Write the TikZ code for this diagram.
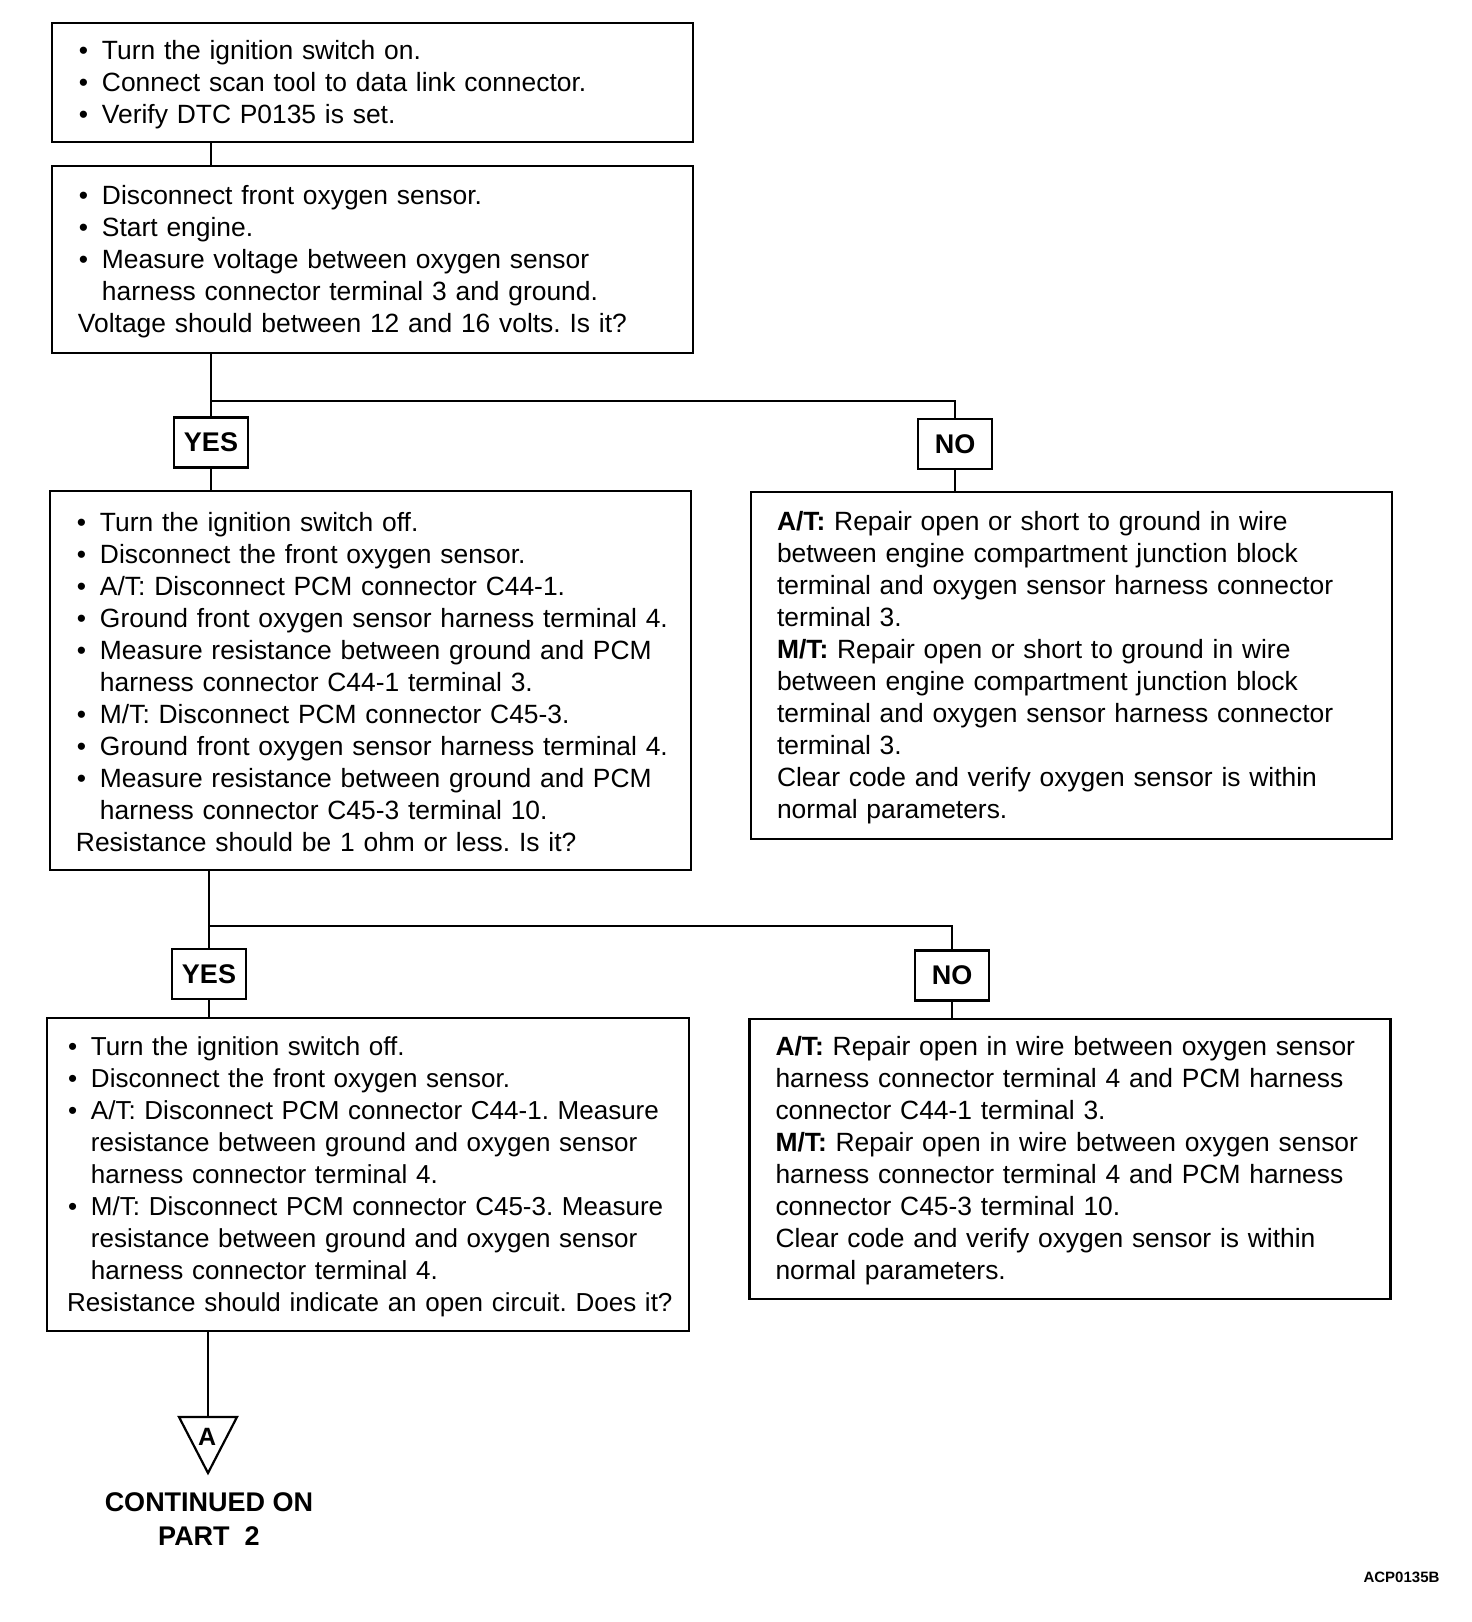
\documentclass[tikz,border=0pt]{standalone}
\usepackage{fontspec}
\setmainfont{Liberation Sans}
\frenchspacing
\hyphenpenalty=10000
\exhyphenpenalty=10000
\newlength\padleft
\setlength\padleft{5pt}
\newcommand\itm{\par\noindent\leftskip=\padleft\hangindent=12pt\hangafter=1\makebox[12pt][l]{\hspace{0.5pt}\textbullet}}
\newcommand\txt{\par\noindent\leftskip=\padleft}
\newcommand\boxfoot{\par\vspace{4.5pt}}
\begin{document}
\begin{tikzpicture}[x=1pt,y=-1pt,line width=1.1pt,
 task/.style={draw,align=left,inner xsep=8pt,inner ysep=0pt,text width=304.5pt,
  font=\fontsize{13.2}{16}\selectfont,execute at end node=\boxfoot},
 answer/.style={draw,inner sep=0pt,minimum width=37pt,minimum height=25pt,font=\fontsize{13.5}{16}\selectfont\bfseries}]
\useasboundingbox (0,0) rectangle (736,811);
% checks and repairs
\node[task,minimum height=59.5pt] (chk0) at (186.25,41.25)
 {\itm Turn the ignition switch on.
  \itm Connect scan tool to data link connector.
  \itm Verify DTC P0135 is set.\par};
\node[task,minimum height=93.5pt] (chk1) at (186.25,129.75)
 {\itm Disconnect front oxygen sensor.
  \itm Start engine.
  \itm Measure voltage between oxygen sensor\newline harness connector terminal 3 and ground.
  \txt Voltage should between 12 and 16 volts. Is it?\par};
\node[task,minimum height=189.5pt] (res1) at (185.25,340.25)
 {\itm Turn the ignition switch off.
  \itm Disconnect the front oxygen sensor.
  \itm A/T: Disconnect PCM connector C44-1.
  \itm Ground front oxygen sensor harness terminal 4.
  \itm Measure resistance between ground and PCM\newline harness connector C44-1 terminal 3.
  \itm M/T: Disconnect PCM connector C45-3.
  \itm Ground front oxygen sensor harness terminal 4.
  \itm Measure resistance between ground and PCM\newline harness connector C45-3 terminal 10.
  \txt Resistance should be 1 ohm or less. Is it?\par};
\node[task,minimum height=173.5pt] (fix1) at (535.75,332.75)
 {\txt\textbf{A/T:} Repair open or short to ground in wire\newline between engine compartment junction block\newline terminal and oxygen sensor harness connector\newline terminal 3.
  \txt\textbf{M/T:} Repair open or short to ground in wire\newline between engine compartment junction block\newline terminal and oxygen sensor harness connector\newline terminal 3.
  \txt Clear code and verify oxygen sensor is within\newline normal parameters.\par};
\node[task,inner xsep=5pt,text width=311pt,minimum height=156.5pt,
 font=\fontsize{13}{16}\selectfont] (res2) at (184,587.25)
 {\itm Turn the ignition switch off.
  \itm Disconnect the front oxygen sensor.
  \itm A/T: Disconnect PCM connector C44-1. Measure\newline resistance between ground and oxygen sensor\newline harness connector terminal 4.
  \itm M/T: Disconnect PCM connector C45-3. Measure\newline resistance between ground and oxygen sensor\newline harness connector terminal 4.
  \txt Resistance should indicate an open circuit. Does it?\par};
\node[task,minimum height=140pt] (fix2) at (535,579.5)
 {\txt\textbf{A/T:} Repair open in wire between oxygen sensor\newline harness connector terminal 4 and PCM harness\newline connector C44-1 terminal 3.
  \txt\textbf{M/T:} Repair open in wire between oxygen sensor\newline harness connector terminal 4 and PCM harness\newline connector C45-3 terminal 10.
  \txt Clear code and verify oxygen sensor is within\newline normal parameters.\par};
% answers
\node[answer] (yes1) at (105.5,221.25) {YES};
\node[answer] (no1) at (477.5,222) {NO};
\node[answer] (yes2) at (104.5,487) {YES};
\node[answer] (no2) at (476,487.75) {NO};
\coordinate (br1) at (105.5,200.5);
\coordinate (br2) at (104.5,463);
\draw (chk0.south -| br1) -- (chk1.north -| br1);
\draw (chk1.south -| br1) -- (yes1.north);
\draw (br1) -| (no1.north);
\draw (yes1.south) -- (yes1.south |- res1.north);
\draw (no1.south) -- (no1.south |- fix1.north);
\draw (res1.south -| br2) -- (yes2.north);
\draw (br2) -| (no2.north);
\draw (yes2.south) -- (yes2.south |- res2.north);
\draw (no2.south) -- (no2.south |- fix2.north);
% off-page connector
\coordinate (contA) at (104,708.5);
\draw (res2.south -| contA) -- (contA);
\draw (89.5,708.5) -- (118.5,708.5) -- (104,736.5) -- cycle;
\node[font=\fontsize{12.5}{14}\selectfont\bfseries] (markA) at (103.6,718.5) {A};
\node[font=\fontsize{13.5}{17}\selectfont\bfseries,align=center] (cont) at (104.5,759.5) {CONTINUED ON\\PART\ \ 2};
\node[font=\fontsize{7.5}{9}\selectfont\bfseries] (code) at (700.75,788.5) {ACP0135B};
\end{tikzpicture}
\end{document}
